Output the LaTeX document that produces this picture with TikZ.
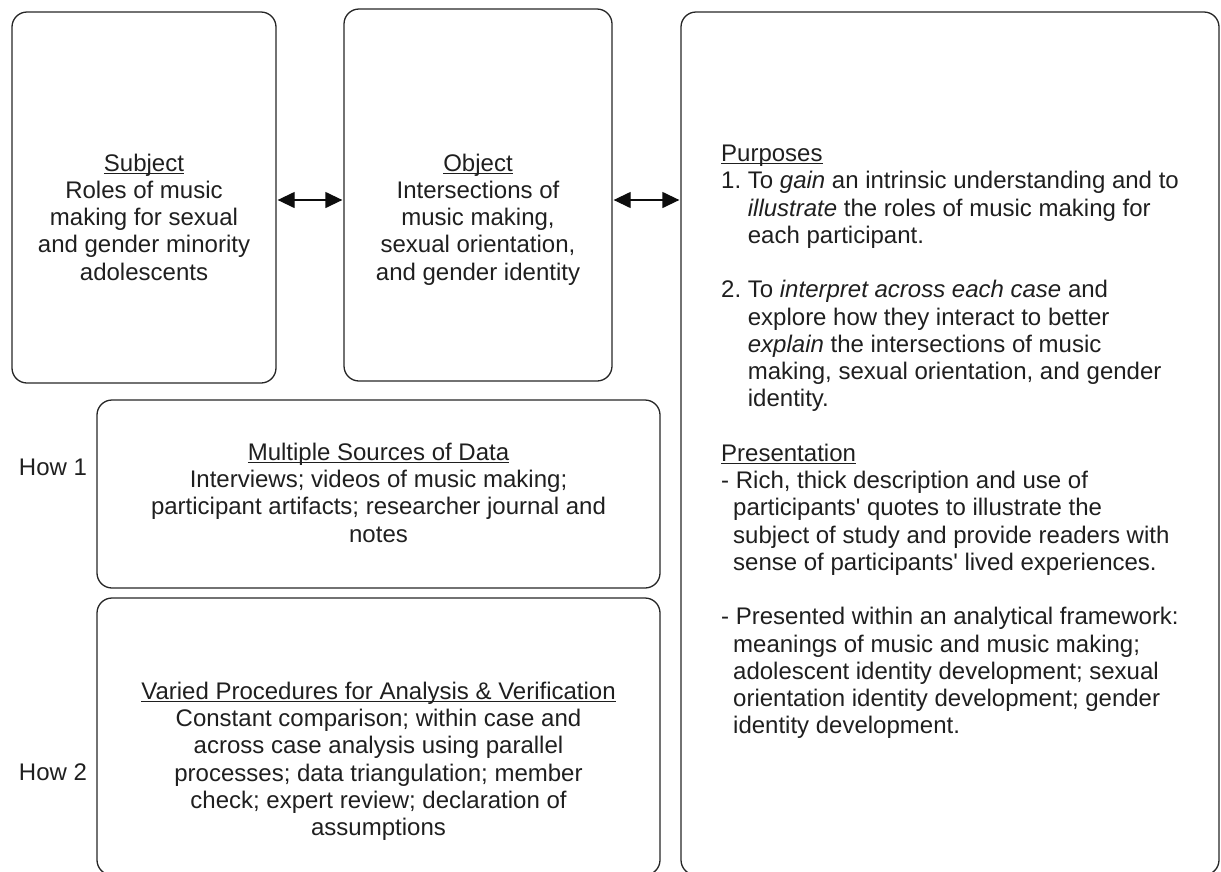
\documentclass[tikz,border=0pt]{standalone}
\usepackage{fontspec}
\setmainfont{Liberation Sans}
\usetikzlibrary{arrows.meta}
\frenchspacing
% underlined heading, rule close under the baseline
\newcommand\hdr[1]{\setbox0\hbox{#1}\rlap{\rule[-2.6pt]{\wd0}{1.1pt}}\box0}

\begin{document}
\begin{tikzpicture}[x=1pt,y=-1pt,
  box/.style={draw=black!85,line width=1.3pt,rounded corners=15pt,inner sep=0pt},
  txt/.style={align=center,inner sep=0pt,text=black!88,font=\fontsize{24}{27.25}\selectfont},
  link/.style={{Triangle[length=17pt,width=16pt]}-{Triangle[length=17pt,width=16pt]},line width=1.3pt,black!95,shorten <=1pt,shorten >=1pt}]
\useasboundingbox (0,0) rectangle (1221,871);
\clip (0,0) rectangle (1221,871);

% boxes
\path (144,197.5) node[box,minimum width=264,minimum height=371](Subject){}
      (478,195) node[box,minimum width=268,minimum height=372](Object){}
      (950,443.5) node[box,minimum width=538,minimum height=863](Goals){}
      (378.5,494) node[box,minimum width=563,minimum height=188](Sources){}
      (378.5,736.5) node[box,minimum width=563,minimum height=277](Procedures){};

% texts
\node[txt,anchor=north](SubjectText) at (144,153.5) {\hdr{Subject}\\Roles of music\\making for sexual\\and gender minority\\adolescents};
\node[txt,anchor=north](ObjectText) at (478,153.5) {\hdr{Object}\\Intersections of\\music making,\\sexual orientation,\\and gender identity};
\node[txt,anchor=north](SourcesText) at (378.5,442.8) {\hdr{Multiple Sources of Data}\\Interviews; videos of music making;\\participant artifacts; researcher journal and\\notes};
\node[txt,anchor=north](ProceduresText) at (378.5,681.8) {\hdr{Varied Procedures for Analysis \& Verification}\\Constant comparison; within case and\\across case analysis using parallel\\processes; data triangulation; member\\check; expert review; declaration of\\assumptions};
\node[txt,align=left,anchor=north west](GoalsText) at (721,144.8) {\hdr{Purposes}\\
1. To \textit{gain} an intrinsic understanding and to\\
\phantom{1. }\textit{illustrate} the roles of music making for\\
\phantom{1. }each participant.\\[27.25pt]
2. To \textit{interpret across each case} and\\
\phantom{2. }explore how they interact to better\\
\phantom{2. }\textit{explain} the intersections of music\\
\phantom{2. }making, sexual orientation, and gender\\
\phantom{2. }identity.\\[27.25pt]
\hdr{Presentation}\\
- Rich, thick description and use of\\
\hspace*{12pt}participants\textquotesingle{} quotes to illustrate the\\
\hspace*{12pt}subject of study and provide readers with\\
\hspace*{12pt}sense of participants\textquotesingle{} lived experiences.\\[27.25pt]
- Presented within an analytical framework:\\
\hspace*{12pt}meanings of music and music making;\\
\hspace*{12pt}adolescent identity development; sexual\\
\hspace*{12pt}orientation identity development; gender\\
\hspace*{12pt}identity development.};
\node[txt](HowOne) at (53,467) {How 1};
\node[txt](HowTwo) at (53,772) {How 2};

% arrows
\coordinate (arrowrow) at (0,200);
\draw[link] (Subject.east |- arrowrow) -- (Object.west |- arrowrow);
\draw[link] (Object.east |- arrowrow) -- (Goals.west |- arrowrow);
\end{tikzpicture}
\end{document}
